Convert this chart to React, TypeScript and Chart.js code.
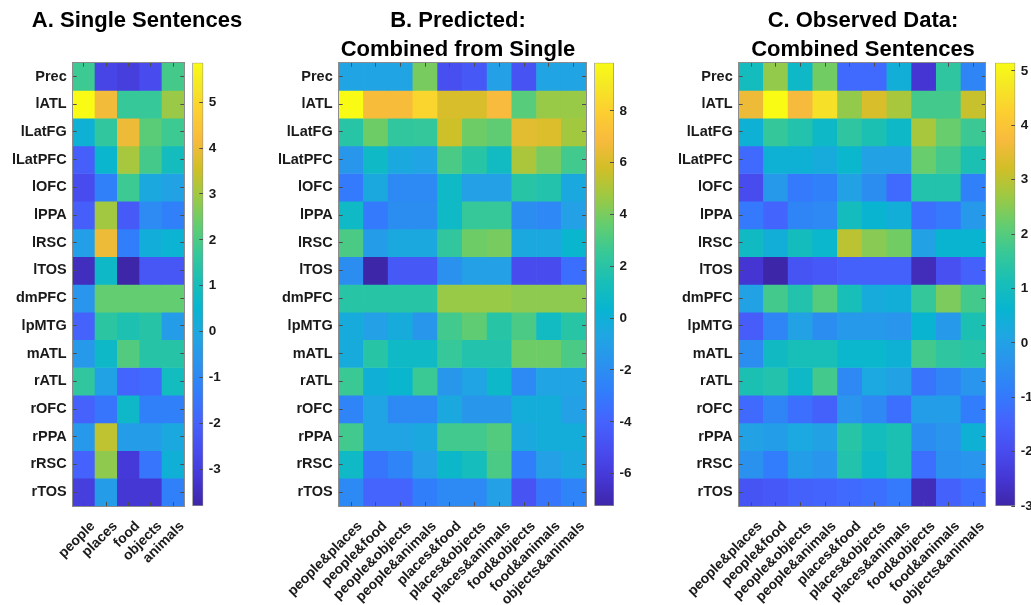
import React, { useEffect, useRef } from 'react';
import { Chart, registerables } from 'chart.js';

Chart.register(...registerables);

// ---------------- data ----------------
const ROIS = ['Prec', 'lATL', 'lLatFG', 'lLatPFC', 'lOFC', 'lPPA', 'lRSC', 'lTOS', 'dmPFC', 'lpMTG', 'mATL', 'rATL', 'rOFC', 'rPPA', 'rRSC', 'rTOS'];
const SINGLE_CATS = ['people', 'places', 'food', 'objects', 'animals'];
const PAIR_CATS = ['people&places', 'people&food', 'people&objects', 'people&animals', 'places&food', 'places&objects', 'places&animals', 'food&objects', 'food&animals', 'objects&animals'];

const SINGLE = [
  [1.8, -2.8, -3.0, -2.6, 1.9],
  [5.86, 4.1, 1.7, 1.7, 2.9],
  [0.35, 1.6, 4.0, 2.2, 1.8],
  [-2.1, 0.55, 3.05, 1.9, 0.95],
  [-2.6, -1.2, 1.8, 0.0, -0.2],
  [-2.1, 3.0, -2.2, -0.9, -1.2],
  [-0.3, 4.0, -1.3, 0.2, 0.4],
  [-3.5, 0.7, -3.8, -2.3, -2.3],
  [-0.6, 2.3, 2.3, 2.3, 2.3],
  [-2.0, 1.5, 1.2, 1.4, -0.4],
  [-0.5, 0.7, 2.1, 1.4, 1.4],
  [1.6, -0.2, -1.9, -1.8, 0.9],
  [-2.0, -1.5, 0.7, -1.2, -1.2],
  [-0.5, 3.35, -0.4, -0.4, 0.0],
  [-2.0, 2.8, -3.1, -1.5, 0.3],
  [-3.0, -0.4, -3.2, -3.2, -1.2],
];

const PREDICTED = [
  [-0.8, -0.8, -0.8, 4.0, -5.0, -4.5, -1.0, -4.8, -0.8, -0.8],
  [9.86, 7.0, 7.0, 8.2, 6.0, 6.0, 6.9, 3.3, 4.6, 4.6],
  [2.0, 3.8, 2.3, 2.4, 5.7, 3.8, 3.5, 6.3, 6.1, 4.8],
  [-1.5, 0.8, -0.5, -0.8, 3.0, 2.0, 1.0, 5.0, 4.0, 2.8],
  [-3.0, -0.5, -2.2, -2.2, 0.8, -1.0, -1.0, 2.0, 1.8, -0.5],
  [0.8, -3.0, -2.0, -2.0, 0.8, 2.5, 2.5, -2.0, -2.3, -1.0],
  [3.0, -1.2, -0.5, -0.5, 2.3, 3.8, 4.0, -0.5, -0.5, 0.5],
  [-2.0, -7.25, -4.5, -4.5, -1.8, -1.0, -1.0, -5.2, -5.2, -3.5],
  [2.0, 2.0, 2.0, 2.0, 4.6, 4.6, 4.6, 4.4, 4.4, 4.4],
  [-0.3, -1.0, -0.3, -1.5, 2.8, 3.5, 2.0, 3.0, 1.0, 2.0],
  [-0.3, 2.0, 0.8, 0.8, 2.5, 1.8, 1.8, 3.8, 3.8, 3.0],
  [2.6, 0.0, 0.5, 2.6, -1.5, -0.8, 0.7, -2.2, -0.8, -0.8],
  [-2.5, -0.8, -2.2, -2.2, -0.5, -1.5, -1.5, -0.2, -0.2, -1.0],
  [2.8, -0.8, -0.8, -0.5, 2.8, 2.8, 3.2, -0.5, -0.2, -0.2],
  [0.8, -3.2, -2.5, -1.0, 0.6, 1.2, 3.0, -2.8, -1.0, -0.5],
  [-2.2, -4.0, -4.0, -2.8, -2.2, -2.2, -1.0, -4.8, -3.2, -2.5],
];

const OBSERVED = [
  [1.0, 2.6, 0.8, 2.3, -1.3, -1.3, 0.4, -2.5, 1.5, -0.7],
  [3.6, 5.15, 3.7, 4.6, 2.6, 3.3, 2.8, 1.8, 1.8, 3.1],
  [0.5, 1.6, 1.3, 0.8, 1.5, 1.2, 0.8, 2.8, 2.2, 1.7],
  [-1.3, 0.5, 0.5, 0.3, 0.7, 0.0, 0.0, 2.2, 1.8, 1.2],
  [-2.0, -0.2, -1.0, -0.8, 0.0, -0.5, -1.3, 1.3, 1.3, -0.8],
  [-1.0, -1.4, -0.7, -0.6, 1.0, 0.6, 0.4, -1.2, -1.0, -0.2],
  [0.9, 0.4, 1.0, 0.7, 3.0, 2.5, 2.3, 0.0, 0.6, 0.6],
  [-2.5, -3.0, -1.8, -1.7, -1.5, -1.5, -1.5, -2.8, -1.9, -1.5],
  [0.0, 1.8, 1.3, 2.0, 1.1, 0.3, 0.4, 1.6, 2.4, 1.8],
  [-1.6, -0.7, 0.0, -0.5, -0.2, -0.2, -0.3, 0.6, -0.2, 1.2],
  [-0.5, 0.9, 1.1, 1.1, 0.7, 0.7, 0.5, 1.8, 1.5, 1.4],
  [1.2, 1.3, 0.8, 1.8, -0.6, 0.2, 0.0, -1.1, -0.7, -0.3],
  [-1.3, -0.7, -1.2, -1.5, -0.3, -0.6, -1.2, -0.1, -0.1, -0.9],
  [0.0, -0.1, 0.2, 0.0, 1.4, 1.0, 1.2, -0.5, -0.3, 0.5],
  [-0.4, -0.9, -0.1, -0.3, 1.3, 0.8, 1.2, -1.2, -0.4, -0.3],
  [-1.8, -1.7, -1.5, -1.4, -1.3, -1.2, -1.0, -2.8, -1.5, -1.2],
];

const TICKS_SINGLE = [-3, -2, -1, 0, 1, 2, 3, 4, 5];
const TICKS_PREDICTED = [-6, -4, -2, 0, 2, 4, 6, 8];
const TICKS_OBSERVED = [-3, -2, -1, 0, 1, 2, 3, 4, 5];

const TITLE_A = ['A. Single Sentences'];
const TITLE_B = ['B. Predicted:', 'Combined from Single'];
const TITLE_C = ['C. Observed Data:', 'Combined Sentences'];

// ---------------- colormap (parula) ----------------
const PARULA: number[][] = [
  [62, 38, 168], [69, 55, 213], [72, 77, 240], [69, 99, 253], [50, 124, 252],
  [43, 145, 239], [32, 165, 227], [8, 181, 208], [25, 191, 182], [55, 200, 151],
  [100, 205, 111], [157, 201, 67], [209, 191, 39], [248, 186, 61], [252, 207, 48],
  [245, 233, 36], [249, 251, 21],
];
const PARULA_POS = PARULA.map((_, i) => (i === PARULA.length - 1 ? 1 : (i * 4) / 63));

function parula(t: number): string {
  const x = Math.max(0, Math.min(1, t));
  for (let i = 0; i < PARULA.length - 1; i++) {
    const a = PARULA_POS[i];
    const b = PARULA_POS[i + 1];
    if (x <= b) {
      const f = (x - a) / (b - a);
      const c = PARULA[i].map((v, k) => Math.round(v + (PARULA[i + 1][k] - v) * f));
      return `rgb(${c[0]},${c[1]},${c[2]})`;
    }
  }
  const l = PARULA[PARULA.length - 1];
  return `rgb(${l[0]},${l[1]},${l[2]})`;
}

// ---------------- layout / style ----------------
const W = 1031;
const H = 605;
const PLOT_TOP = 62.7;
const PLOT_BOTTOM = 506;
const FONT = '"Liberation Sans", Arial, Helvetica, sans-serif';
const TEXT = '#1a1a1a';
const BOX = '#8c8c8c';
const TICK = '#4d4d4d';

Chart.defaults.font.family = FONT;

function rangeOf(values: number[][]) {
  const flat = values.flat();
  return { min: Math.min(...flat), max: Math.max(...flat) };
}

function noOverflow(s: any) {
  s.paddingLeft = 0;
  s.paddingRight = 0;
  s.paddingTop = 0;
  s.paddingBottom = 0;
}

type HeatProps = { values: number[][]; cats: string[]; left: number; width: number; plotL: number; plotR: number };

function Heatmap({ values, cats, left, width, plotL, plotR }: HeatProps) {
  const ref = useRef<HTMLCanvasElement | null>(null);
  useEffect(() => {
    if (!ref.current) return;
    const { min, max } = rangeOf(values);
    const gridBase = { drawOnChartArea: false, drawTicks: true, tickLength: -4, color: TICK, lineWidth: 1, z: 1, offset: false };
    const border = { display: true, color: BOX, width: 1, z: 1 };
    const rowTicks = (s: any) => {
      s.ticks = ROIS.map((_, i) => ({ value: i + 0.5 }));
    };
    let chart: any = null;
    try {
      chart = new Chart(ref.current, {
        type: 'bar',
        data: {
          labels: cats,
          datasets: ROIS.map((name, r) => ({
            label: name,
            data: cats.map(() => [r, r + 1]) as any,
            backgroundColor: values[r].map((v) => parula((v - min) / (max - min))),
            borderWidth: 0,
            barPercentage: 1,
            categoryPercentage: 1,
            grouped: false,
          })),
        },
        options: {
          responsive: false,
          animation: false,
          events: [],
          layout: { padding: { top: PLOT_TOP, bottom: 0, left: 0, right: width - (plotR - left) } },
          plugins: { legend: { display: false }, tooltip: { enabled: false }, title: { display: false } },
          scales: {
            x: {
              type: 'category',
              position: 'bottom',
              offset: true,
              grid: gridBase,
              border,
              ticks: {
                autoSkip: false,
                maxRotation: 45,
                minRotation: 45,
                padding: 16,
                labelOffset: 9,
                color: TEXT,
                font: { size: 14, weight: 'bold', family: FONT },
              },
              afterFit: (s: any) => {
                s.height = H - PLOT_BOTTOM;
                noOverflow(s);
              },
            },
            xTop: {
              type: 'category',
              position: 'top',
              offset: true,
              grid: gridBase,
              border,
              ticks: { display: false },
              afterFit: (s: any) => {
                s.height = 0;
                noOverflow(s);
              },
            },
            y: {
              type: 'linear',
              position: 'left',
              min: 0,
              max: ROIS.length,
              reverse: true,
              afterBuildTicks: rowTicks,
              grid: gridBase,
              border,
              ticks: {
                autoSkip: false,
                padding: 10,
                color: TEXT,
                font: { size: 14.5, weight: 'bold', family: FONT },
                callback: (_v: any, i: number) => ROIS[i],
              },
              afterFit: (s: any) => {
                s.width = plotL - left;
                noOverflow(s);
              },
            },
            yRight: {
              type: 'linear',
              position: 'right',
              min: 0,
              max: ROIS.length,
              reverse: true,
              afterBuildTicks: rowTicks,
              grid: gridBase,
              border,
              ticks: { display: false },
              afterFit: (s: any) => {
                s.width = 0;
                noOverflow(s);
              },
            },
          },
        } as any,
      });
    } catch (e) {
      console.error(e);
    }
    return () => {
      if (chart) chart.destroy();
    };
  }, [values, cats, left, width, plotL, plotR]);
  return (
    <canvas
      ref={ref}
      width={width}
      height={H}
      style={{ position: 'absolute', left, top: 0, width, height: H }}
    />
  );
}

type BarProps = { values: number[][]; ticks: number[]; left: number; width: number; barL: number; barW: number };

function ColorBar({ values, ticks, left, width, barL, barW }: BarProps) {
  const ref = useRef<HTMLCanvasElement | null>(null);
  useEffect(() => {
    if (!ref.current) return;
    const { min, max } = rangeOf(values);
    let chart: any = null;
    try {
      chart = new Chart(ref.current, {
        type: 'bar',
        data: {
          labels: ['colorbar'],
          datasets: [
            {
              data: [[min, max]] as any,
              barPercentage: 1,
              categoryPercentage: 1,
              borderWidth: 1,
              borderColor: BOX,
              borderSkipped: false,
              backgroundColor: (ctx: any) => {
                const c = ctx.chart;
                const y = c.scales && c.scales.y;
                const fallback = parula(0.5);
                if (!y || !c.chartArea) return fallback;
                const y0 = y.getPixelForValue(min);
                const y1 = y.getPixelForValue(max);
                if (!isFinite(y0) || !isFinite(y1) || y0 === y1) return fallback;
                const g = c.ctx.createLinearGradient(0, y0, 0, y1);
                PARULA.forEach((col, i) => g.addColorStop(PARULA_POS[i], `rgb(${col[0]},${col[1]},${col[2]})`));
                return g;
              },
            },
          ],
        },
        options: {
          responsive: false,
          animation: false,
          events: [],
          layout: { padding: { top: PLOT_TOP, bottom: H - PLOT_BOTTOM, left: barL - left, right: 0 } },
          plugins: { legend: { display: false }, tooltip: { enabled: false } },
          scales: {
            x: { type: 'category', display: false, offset: true },
            y: {
              type: 'linear',
              position: 'right',
              min,
              max,
              afterBuildTicks: (s: any) => {
                s.ticks = ticks.map((v) => ({ value: v }));
              },
              grid: { drawOnChartArea: false, drawTicks: true, tickLength: -4, color: TICK, z: 1 },
              border: { display: false },
              ticks: {
                autoSkip: false,
                padding: 9.5,
                color: TEXT,
                font: { size: 13.5, weight: 'bold', family: FONT },
                callback: (v: any) => String(v),
              },
              afterFit: (s: any) => {
                s.width = width - (barL - left) - barW;
                noOverflow(s);
              },
            },
          },
        } as any,
      });
    } catch (e) {
      console.error(e);
    }
    return () => {
      if (chart) chart.destroy();
    };
  }, [values, ticks, left, width, barL, barW]);
  return (
    <canvas
      ref={ref}
      width={width}
      height={H}
      style={{ position: 'absolute', left, top: 0, width, height: H }}
    />
  );
}

function Title({ lines, center }: { lines: string[]; center: number }) {
  return (
    <div
      style={{
        position: 'absolute',
        left: center,
        top: 4.5,
        transform: 'translateX(-50%)',
        whiteSpace: 'nowrap',
        textAlign: 'center',
        font: `bold 22px/29px ${FONT}`,
        color: '#000',
      }}
    >
      {lines.map((l) => (
        <div key={l}>{l}</div>
      ))}
    </div>
  );
}

export default function App() {
  return (
    <div
      style={{
        position: 'absolute',
        left: 0,
        top: 0,
        width: W,
        height: H,
        overflow: 'hidden',
        background: '#fff',
        fontFamily: FONT,
      }}
    >
      <Heatmap values={SINGLE} cats={SINGLE_CATS} left={0} width={190} plotL={72.7} plotR={184.3} />
      <ColorBar values={SINGLE} ticks={TICKS_SINGLE} left={188} width={52} barL={192.3} barW={11} />
      <Heatmap values={PREDICTED} cats={PAIR_CATS} left={250} width={340} plotL={338.7} plotR={586} />
      <ColorBar values={PREDICTED} ticks={TICKS_PREDICTED} left={590} width={70} barL={594.3} barW={19.7} />
      <Heatmap values={OBSERVED} cats={PAIR_CATS} left={670} width={320} plotL={738.7} plotR={985.7} />
      <ColorBar values={OBSERVED} ticks={TICKS_OBSERVED} left={990} width={41} barL={995.3} barW={20} />
      <Title lines={TITLE_A} center={137} />
      <Title lines={TITLE_B} center={458} />
      <Title lines={TITLE_C} center={863} />
    </div>
  );
}
